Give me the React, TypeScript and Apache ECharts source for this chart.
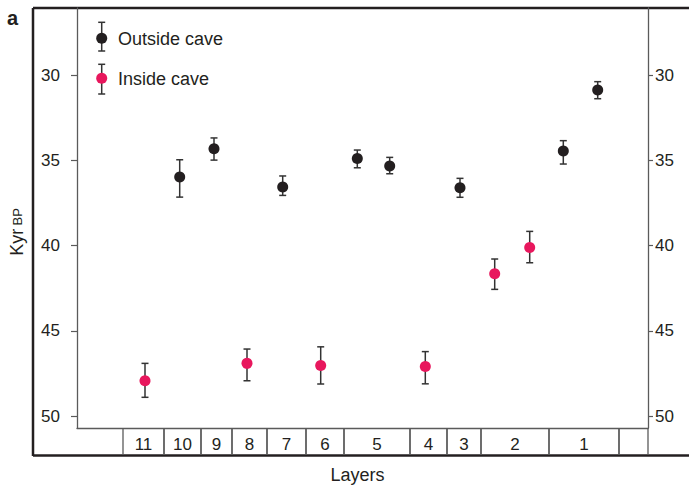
import React, { useEffect, useRef } from "react";
import * as echarts from "echarts";

// Position along the section (arbitrary units, 0..571), age in kyr BP
const outsideX = [102.7, 137, 205.7, 280.3, 312.7, 383, 486.3, 520.7];
const outsideAge = [35.98, 34.32, 36.57, 34.89, 35.34, 36.61, 34.46, 30.88];
const outsideLow = [34.97, 33.69, 35.92, 34.4, 34.83, 36.06, 33.85, 30.39];
const outsideHigh = [37.16, 34.99, 37.06, 35.44, 35.79, 37.17, 35.22, 31.39];

const insideX = [68, 170, 243.7, 348.3, 417.7, 452.7];
const insideAge = [47.93, 46.91, 47.03, 47.1, 41.65, 40.11];
const insideLow = [46.91, 46.07, 45.94, 46.22, 40.79, 39.17];
const insideHigh = [48.9, 47.93, 48.12, 48.11, 42.57, 41.01];

const layerBounds = [46, 87, 124, 155, 190, 229, 267, 333, 370, 404, 472, 542, 571];
const layerLabels = ["11", "10", "9", "8", "7", "6", "5", "4", "3", "2", "1", ""];

const yTicks = [30, 35, 40, 45, 50];

const FONT = '"Liberation Sans", Arial, Helvetica, sans-serif';
const BLACK = "#231f20";
const RED = "#e8175d";
const BAR = "#333333";
const LINE = "#5a5a5a";

export default function App() {
  const ref = useRef<HTMLDivElement>(null);
  useEffect(() => {
    if (!ref.current) return;
    const chart = echarts.init(ref.current, undefined, { renderer: "svg" });

    const errData = (xs: number[], lo: number[], hi: number[]) =>
      xs.map((x, i) => [x, lo[i], hi[i]]);

    const errRender = (params: any, api: any) => {
      const x = api.value(0);
      const p1 = api.coord([x, api.value(1)]);
      const p2 = api.coord([x, api.value(2)]);
      const hw = 3.5;
      const style = { stroke: BAR, lineWidth: 1.5 };
      return {
        type: "group",
        children: [
          { type: "line", shape: { x1: p1[0], y1: p1[1], x2: p2[0], y2: p2[1] }, style },
          { type: "line", shape: { x1: p1[0] - hw, y1: p1[1], x2: p1[0] + hw, y2: p1[1] }, style },
          { type: "line", shape: { x1: p2[0] - hw, y1: p2[1], x2: p2[0] + hw, y2: p2[1] }, style },
        ],
      };
    };

    const cells = layerLabels.map((lab, i) => ({
      value: [layerBounds[i], layerBounds[i + 1]],
      name: lab,
    }));

    const tableRender = (params: any, api: any) => {
      const s = api.value(0);
      const e = api.value(1);
      const tl = api.coord([s, 1]);
      const bl = api.coord([s, 0]);
      const tr = api.coord([e, 1]);
      const br = api.coord([e, 0]);
      const lab = layerLabels[params.dataIndex];
      const style = { stroke: LINE, lineWidth: 1.3 };
      return {
        type: "group",
        children: [
          { type: "line", shape: { x1: tl[0], y1: tl[1], x2: bl[0], y2: bl[1] }, style },
          { type: "line", shape: { x1: tr[0], y1: tr[1], x2: br[0], y2: br[1] }, style },
          {
            type: "text",
            x: (tl[0] + tr[0]) / 2,
            y: (tl[1] + bl[1]) / 2 + 3,
            style: {
              text: lab,
              fill: BLACK,
              font: `17px ${FONT}`,
              align: "center",
              verticalAlign: "middle",
            },
          },
        ],
      };
    };

    const legendBar = (x: number, y1: number, y2: number) => [
      { type: "line", shape: { x1: x, y1, x2: x, y2 }, style: { stroke: BAR, lineWidth: 1.5 } },
      { type: "line", shape: { x1: x - 3.5, y1, x2: x + 3.5, y2: y1 }, style: { stroke: BAR, lineWidth: 1.5 } },
      { type: "line", shape: { x1: x - 3.5, y1: y2, x2: x + 3.5, y2 }, style: { stroke: BAR, lineWidth: 1.5 } },
    ];

    const frameStyle = { stroke: BLACK, lineWidth: 2.5 };

    const yAxisCommon = {
      type: "value",
      inverse: true,
      min: 26.07,
      max: 50.7,
      splitLine: { show: false },
      axisLine: { show: true, lineStyle: { color: LINE, width: 1.3 } },
    };

    chart.setOption({
      animation: false,
      grid: [
        { left: 77, top: 8, width: 571, height: 420 },
        { left: 77, top: 428, width: 571, height: 27 },
      ],
      xAxis: [
        {
          gridIndex: 0,
          type: "value",
          min: 0,
          max: 571,
          axisLine: { show: true, onZero: false, lineStyle: { color: LINE, width: 1.3 } },
          axisTick: { show: false },
          axisLabel: { show: false },
          splitLine: { show: false },
        },
        {
          gridIndex: 1,
          type: "value",
          min: 0,
          max: 571,
          show: false,
        },
      ],
      yAxis: [
        {
          ...yAxisCommon,
          gridIndex: 0,
          position: "left",
          axisTick: { show: true, length: 6, customValues: yTicks, lineStyle: { color: LINE, width: 1.2 } },
          axisLabel: { margin: 17, customValues: yTicks, color: BLACK, fontSize: 17, fontFamily: FONT },
        },
        {
          ...yAxisCommon,
          gridIndex: 0,
          position: "right",
          axisTick: { show: true, length: 5, customValues: yTicks, lineStyle: { color: LINE, width: 1.2 } },
          axisLabel: { margin: 7, customValues: yTicks, color: BLACK, fontSize: 17, fontFamily: FONT },
        },
        { gridIndex: 1, type: "value", min: 0, max: 1, show: false },
      ],
      graphic: [
        { type: "line", shape: { x1: 33, y1: 8, x2: 689, y2: 8 }, style: frameStyle },
        { type: "line", shape: { x1: 33, y1: 8, x2: 33, y2: 456 }, style: frameStyle },
        { type: "line", shape: { x1: 33, y1: 455.5, x2: 689, y2: 455.5 }, style: frameStyle },
        {
          type: "text",
          x: 12.5,
          y: 18,
          style: { text: "a", font: `bold 20px ${FONT}`, fill: BLACK, align: "center", verticalAlign: "middle" },
        },
        {
          type: "text",
          x: 17,
          y: 232,
          rotation: Math.PI / 2,
          style: {
            text: "{a|Kyr} {b|BP}",
            align: "center",
            verticalAlign: "middle",
            rich: {
              a: { fontSize: 18, fontFamily: FONT, fill: BLACK },
              b: { fontSize: 13, fontFamily: FONT, fill: BLACK },
            },
          },
        },
        {
          type: "text",
          x: 357.5,
          y: 475,
          style: { text: "Layers", font: `18px ${FONT}`, fill: BLACK, align: "center", verticalAlign: "middle" },
        },
        ...legendBar(101.7, 22.3, 51),
        { type: "circle", shape: { cx: 101.7, cy: 38.3, r: 5.5 }, style: { fill: BLACK } },
        {
          type: "text",
          x: 118,
          y: 39,
          style: { text: "Outside cave", font: `18px ${FONT}`, fill: BLACK, verticalAlign: "middle" },
        },
        ...legendBar(101.7, 64.3, 94),
        { type: "circle", shape: { cx: 101.7, cy: 78.3, r: 5.5 }, style: { fill: RED } },
        {
          type: "text",
          x: 118,
          y: 79,
          style: { text: "Inside cave", font: `18px ${FONT}`, fill: BLACK, verticalAlign: "middle" },
        },
      ],
      series: [
        {
          type: "custom",
          name: "Outside cave error",
          xAxisIndex: 0,
          yAxisIndex: 0,
          renderItem: errRender,
          data: errData(outsideX, outsideLow, outsideHigh),
          z: 2,
        },
        {
          type: "custom",
          name: "Inside cave error",
          xAxisIndex: 0,
          yAxisIndex: 0,
          renderItem: errRender,
          data: errData(insideX, insideLow, insideHigh),
          z: 2,
        },
        {
          type: "scatter",
          name: "Outside cave",
          xAxisIndex: 0,
          yAxisIndex: 0,
          symbolSize: 11,
          itemStyle: { color: BLACK, opacity: 1 },
          data: outsideX.map((x, i) => [x, outsideAge[i]]),
          z: 3,
        },
        {
          type: "scatter",
          name: "Inside cave",
          xAxisIndex: 0,
          yAxisIndex: 0,
          symbolSize: 11,
          itemStyle: { color: RED, opacity: 1 },
          data: insideX.map((x, i) => [x, insideAge[i]]),
          z: 3,
        },
        {
          type: "custom",
          name: "Layers",
          xAxisIndex: 1,
          yAxisIndex: 2,
          renderItem: tableRender,
          data: cells,
          clip: false,
        },
      ],
    });
    return () => chart.dispose();
  }, []);
  return (
    <div
      ref={ref}
      style={{ position: "fixed", left: 0, top: 0, width: 689, height: 487, background: "#fff" }}
    />
  );
}
